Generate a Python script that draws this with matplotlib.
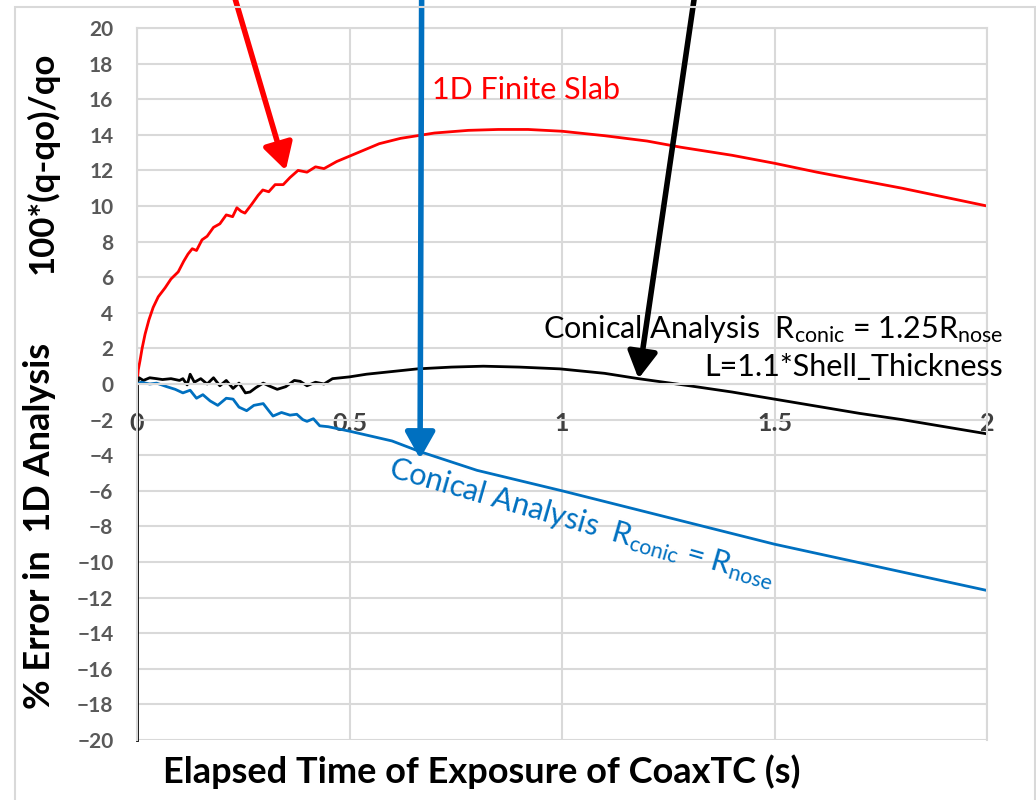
import numpy as np
import matplotlib.pyplot as plt
from matplotlib.patches import Rectangle

# elapsed time (s) and % error
t_slab = [0, 0.003, 0.007, 0.012, 0.019, 0.028, 0.038, 0.05, 0.066, 0.08, 0.097,
          0.11, 0.12, 0.13, 0.14, 0.153, 0.165, 0.18, 0.195, 0.21, 0.225, 0.235,
          0.245, 0.254, 0.27, 0.285, 0.296, 0.31, 0.325, 0.344, 0.36, 0.379, 0.4,
          0.42, 0.44, 0.47, 0.52, 0.57, 0.62, 0.7, 0.78, 0.85, 0.92, 1.0, 1.1,
          1.2, 1.28, 1.4, 1.5, 1.6, 1.7, 1.8, 1.9, 2.0]
err_slab = [0, 0.8, 1.3, 2.0, 2.8, 3.6, 4.3, 4.9, 5.4, 5.9, 6.3,
            6.9, 7.3, 7.6, 7.5, 8.1, 8.3, 8.8, 9.0, 9.5, 9.4, 9.9,
            9.7, 9.6, 10.1, 10.6, 10.9, 10.8, 11.2, 11.2, 11.6, 12.0, 11.9,
            12.2, 12.1, 12.5, 13.0, 13.5, 13.8, 14.1, 14.25, 14.3, 14.3, 14.2, 13.95,
            13.65, 13.3, 12.85, 12.4, 11.9, 11.45, 11.0, 10.5, 10.0]

t_cone125 = [0, 0.005, 0.015, 0.03, 0.046, 0.06, 0.08, 0.1, 0.108, 0.118, 0.125,
             0.135, 0.15, 0.165, 0.18, 0.195, 0.21, 0.226, 0.24, 0.255, 0.266,
             0.28, 0.297, 0.31, 0.33, 0.35, 0.37, 0.384, 0.4, 0.42, 0.44, 0.46,
             0.5, 0.54, 0.6, 0.66, 0.74, 0.815, 0.9, 0.995, 1.1, 1.18, 1.3, 1.4,
             1.5, 1.6, 1.7, 1.8, 1.9, 2.0]
err_cone125 = [0, 0.35, 0.2, 0.35, 0.3, 0.25, 0.3, 0.2, 0.3, -0.05, 0.55,
               0.1, 0.3, 0.0, 0.35, -0.1, 0.2, -0.25, 0.05, -0.5, -0.45,
               -0.2, 0.05, -0.1, -0.3, -0.15, 0.2, 0.15, -0.1, 0.1, 0.0, 0.3,
               0.4, 0.55, 0.7, 0.85, 0.95, 1.0, 0.95, 0.85, 0.6, 0.3, -0.1, -0.45,
               -0.85, -1.25, -1.65, -2.0, -2.4, -2.8]

t_cone = [0, 0.01, 0.03, 0.046, 0.07, 0.09, 0.108, 0.125, 0.14, 0.155, 0.172,
          0.19, 0.21, 0.226, 0.24, 0.258, 0.275, 0.297, 0.31, 0.32, 0.34, 0.36,
          0.376, 0.39, 0.4, 0.415, 0.43, 0.45, 0.47, 0.5, 0.6, 0.666, 0.8, 1.0,
          1.25, 1.5, 1.75, 2.0]
err_cone = [0, 0.1, 0.0, 0.05, -0.15, -0.3, -0.5, -0.35, -0.8, -0.6, -0.95,
            -1.2, -0.8, -0.85, -1.3, -1.5, -1.2, -1.1, -1.5, -1.8, -1.6, -1.75,
            -1.7, -2.0, -2.1, -1.95, -2.35, -2.4, -2.5, -2.65, -3.2, -3.8, -4.85, -6.0,
            -7.5, -9.0, -10.3, -11.6]

x_ticks = [0, 0.5, 1, 1.5, 2]
y_ticks = list(range(-20, 21, 2))

# arrow tips (data) and where they come in from the top (figure fraction)
arrow_tips = [(0.35, 12.0), (0.666, -4.2), (1.18, 0.3)]
arrow_starts = [(0.225, 1.01), (0.407, 1.01), (0.671, 1.01)]
arrow_colors = ['#ff0000', '#0070c0', 'black']

plt.rcParams['font.family'] = ['Lato', 'DejaVu Sans']
plt.rcParams['mathtext.fontset'] = 'custom'
plt.rcParams['mathtext.rm'] = 'Lato'
plt.rcParams['mathtext.it'] = 'Lato:italic'

fig = plt.figure(figsize=(10.36, 8), dpi=100)
ax = fig.add_axes([137 / 1036, 1 - 740 / 800, 850 / 1036, 712 / 800])

fig.add_artist(Rectangle((15 / 1036, -0.02), 1020 / 1036, 1 - 7 / 800 + 0.02,
                         transform=fig.transFigure, fill=False,
                         edgecolor='#d9d9d9', lw=1.5))

ax.set_xlim(0, 2)
ax.set_ylim(-20, 20)
ax.set_xticks(x_ticks)
ax.set_xticklabels(['0', '0.5', '1', '1.5', '2'])
ax.set_yticks(y_ticks)
ax.grid(True, color='#d9d9d9', lw=1.5)
ax.set_axisbelow(True)
for s in ['top', 'right', 'left']:
    ax.spines[s].set_color('#d9d9d9')
    ax.spines[s].set_linewidth(1.5)
ax.spines['bottom'].set_position(('data', 0))
ax.spines['bottom'].set_color('#d9d9d9')
ax.spines['bottom'].set_linewidth(1.5)
ax.tick_params(axis='both', length=0)
ax.tick_params(axis='x', pad=20, labelsize=18, labelcolor='#404040')
ax.tick_params(axis='y', pad=17, labelsize=15, labelcolor='#595959')
for lab in ax.get_xticklabels() + ax.get_yticklabels():
    lab.set_fontweight('bold')

ax.plot([0, 0], [-20, 0], color='black', lw=2, clip_on=False)
ax.plot(t_slab, err_slab, color='#ff0000', lw=2)
ax.plot(t_cone125, err_cone125, color='black', lw=2)
ax.plot(t_cone, err_cone, color='#0070c0', lw=2)

ax.text(0.694, 16.0, '1D Finite Slab', color='#ff0000', fontsize=22,
        va='baseline', ha='left')
ax.text(2.038, 2.6, r'Conical Analysis  R$_{\mathrm{conic}}$ = 1.25R$_{\mathrm{nose}}$',
        fontsize=22, ha='right', va='baseline', clip_on=False)
ax.text(2.038, 0.45, 'L=1.1*Shell_Thickness', fontsize=22, ha='right',
        va='baseline', clip_on=False)
ax.text(1.047, -7.8, r'Conical Analysis  R$_{\mathrm{conic}}$ = R$_{\mathrm{nose}}$',
        color='#0070c0', fontsize=22, rotation=-16, rotation_mode='anchor',
        ha='center', va='center')

for tip, start, c in zip(arrow_tips, arrow_starts, arrow_colors):
    ax.annotate('', xy=tip, xycoords='data', xytext=start,
                textcoords='figure fraction', annotation_clip=False,
                arrowprops=dict(arrowstyle='-|>,head_length=0.8,head_width=0.45',
                                mutation_scale=20, color=c, lw=4,
                                shrinkA=0, shrinkB=0))

fig.text(42 / 1036, 1 - 163 / 800, '100*(q-qo)/qo', rotation=90, fontsize=25,
         fontweight='bold', ha='center', va='center')
fig.text(40 / 1036, 1 - 526 / 800, '% Error in  1D Analysis', rotation=90,
         fontsize=26, fontweight='bold', ha='center', va='center')
fig.text(482 / 1036, 1 - 772 / 800, 'Elapsed Time of Exposure of CoaxTC (s)',
         fontsize=26, fontweight='bold', ha='center', va='center')

fig.savefig('out.png', dpi=100)
